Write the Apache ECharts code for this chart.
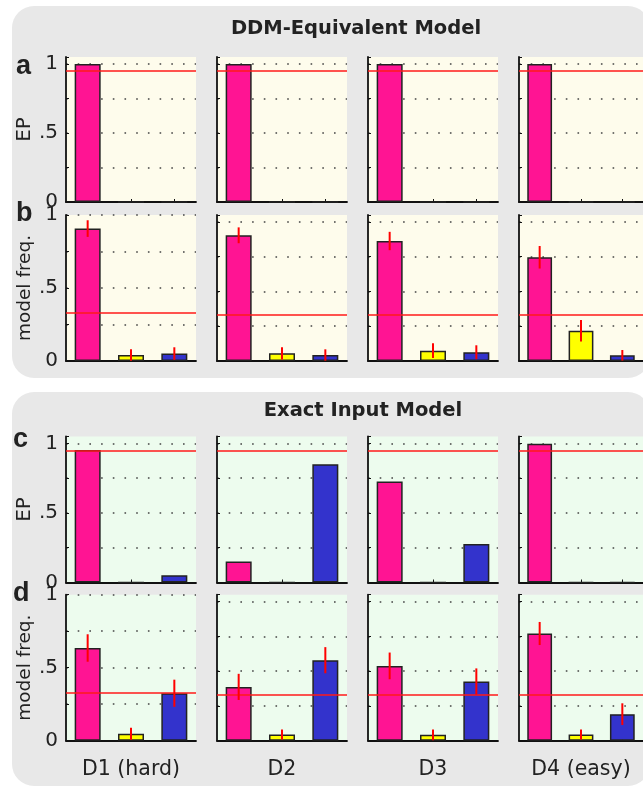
<!DOCTYPE html>
<html>
<head>
<meta charset="utf-8">
<script src="https://cdn.jsdelivr.net/npm/echarts@6/dist/echarts.min.js"></script>
<style>
html,body{margin:0;padding:0;background:#fff;}
#c{width:643px;height:786px;}
</style>
</head>
<body>
<div id="c"></div>
<script>
// ---- data ----
const difficulties = ['D1 (hard)', 'D2', 'D3', 'D4 (easy)'];
const models = ['M1', 'M2', 'M3'];
const panelTitles = ['DDM-Equivalent Model', 'Exact Input Model'];
const panelLetters = ['a', 'b', 'c', 'd'];
const rowNames = ['EP', 'model freq.', 'EP', 'model freq.'];

// a: exceedance probability, DDM-equivalent model
const epDDM = [[1.0, 0, 0], [1.0, 0, 0], [1.0, 0, 0], [1.0, 0, 0]];
// b: model frequency, DDM-equivalent model
const freqDDM = [[0.907, 0.041, 0.051], [0.904, 0.055, 0.043], [0.863, 0.074, 0.063], [0.746, 0.218, 0.041]];
const freqDDMErr = [[0.057, 0.039, 0.043], [0.057, 0.044, 0.041], [0.066, 0.053, 0.050], [0.081, 0.077, 0.038]];
// c: exceedance probability, exact input model
const epExact = [[0.953, 0, 0.052], [0.151, 0, 0.851], [0.727, 0, 0.276], [0.997, 0, 0]];
// d: model frequency, exact input model
const freqExact = [[0.635, 0.048, 0.325], [0.387, 0.045, 0.579], [0.538, 0.042, 0.426], [0.771, 0.045, 0.191]];
const freqExactErr = [[0.094, 0.041, 0.093], [0.094, 0.036, 0.094], [0.096, 0.039, 0.094], [0.083, 0.036, 0.078]];

const epThreshold = 0.95;
const chanceLevel = 0.3333;

// ---- layout / style ----
const FONT = 'DejaVu Sans';
const barColors = ['#FF1493', '#FFFF00', '#3333CC'];
const cream = '#FEFCEC', mint = '#EDFCEE';
const colLeft = [66, 217, 368, 519];
const colWidth = 130;
const rows = [
  {vals: epDDM, err: null, line: epThreshold, bg: cream, top: 57, h: 145, nameSize: 20},
  {vals: freqDDM, err: freqDDMErr, line: chanceLevel, bg: cream, top: 215, h: 146, nameSize: 18.5},
  {vals: epExact, err: null, line: epThreshold, bg: mint, top: 436.5, h: 146, nameSize: 20},
  {vals: freqExact, err: freqExactErr, line: chanceLevel, bg: mint, top: 594.7, h: 146, nameSize: 18.5}
];

const grid = [], xAxis = [], yAxis = [], series = [];
let idx = 0;
rows.forEach((row, r) => {
  difficulties.forEach((dname, c) => {
    const ymax = (c === 0 && row.err) ? 1.0 : 1.05;
    grid.push({left: colLeft[c], top: row.top, width: colWidth, height: row.h,
      show: true, backgroundColor: row.bg, borderWidth: 0, containLabel: false});
    xAxis.push({
      type: 'category', gridIndex: idx, data: models, boundaryGap: true,
      axisLine: {show: true, lineStyle: {color: '#111', width: 1.8}},
      axisTick: {show: true, inside: true, length: 3, alignWithLabel: true, lineStyle: {color: '#111'}},
      axisLabel: {show: false},
      splitLine: {show: false},
      name: r === 3 ? dname : '', nameLocation: 'middle', nameGap: 18,
      nameTextStyle: {fontFamily: FONT, fontSize: 20.5, color: '#222'}
    });
    yAxis.push({
      type: 'value', gridIndex: idx, min: 0, max: ymax, interval: 0.25,
      axisLine: {show: true, lineStyle: {color: '#111', width: 1.8}},
      axisTick: {show: true, inside: true, length: 3, lineStyle: {color: '#111'}},
      axisLabel: {show: c === 0, margin: 8, fontFamily: FONT, fontSize: 20, color: '#222',
        showMaxLabel: true,
        formatter: v => (Math.abs(v) < 1e-9 ? '0' : Math.abs(v - 0.5) < 1e-9 ? '.5' : Math.abs(v - 1) < 1e-9 ? '1' : '')},
      splitLine: {show: true, showMinLine: false, showMaxLine: ymax === 1.0,
        lineStyle: {color: '#444', width: 1.6, type: [1.6, 10.1]}},
      name: c === 0 ? rowNames[r] : '', nameLocation: 'middle', nameRotate: 90, nameGap: 30,
      nameTextStyle: {fontFamily: FONT, fontSize: row.nameSize, color: '#222'}
    });
    series.push({
      type: 'bar', xAxisIndex: idx, yAxisIndex: idx, barWidth: '60%', z: 3,
      data: row.vals[c].map((v, k) => ({value: v, itemStyle: {color: barColors[k]}})),
      itemStyle: {borderColor: '#222', borderWidth: 1.5},
      silent: true,
      markLine: {silent: true, symbol: 'none', label: {show: false},
        lineStyle: {color: '#FF1A1A', width: 1.6, type: 'solid'},
        data: [{yAxis: row.line}]}
    });
    if (row.err) {
      series.push({
        type: 'custom', xAxisIndex: idx, yAxisIndex: idx, z: 5, silent: true,
        data: row.vals[c].map((v, k) => [k, v, row.err[c][k]]),
        renderItem: (params, api) => {
          const k = api.value(0), v = api.value(1), e = api.value(2);
          const p1 = api.coord([k, v + e]);
          const p2 = api.coord([k, Math.max(0, v - e)]);
          return {type: 'line', shape: {x1: p1[0], y1: p1[1], x2: p2[0], y2: p2[1]},
            style: {stroke: '#FF0000', lineWidth: 2}};
        }
      });
    }
    idx++;
  });
});

function txt(x, y, text, font, align) {
  return {type: 'text', z: 10, x: x, y: y,
    style: {text: text, font: font, fill: '#222', align: align || 'left', verticalAlign: 'middle'}};
}
const letterFont = 'bold 27px "Liberation Sans"';
const titleFont = 'bold 19.5px "DejaVu Sans"';
const graphic = [
  {type: 'rect', z: -10, shape: {x: 12, y: 6, width: 638, height: 372, r: 22}, style: {fill: '#E8E8E8'}},
  {type: 'rect', z: -10, shape: {x: 12, y: 392, width: 638, height: 394, r: 22}, style: {fill: '#E8E8E8'}},
  txt(356, 29, panelTitles[0], titleFont, 'center'),
  txt(363, 411, panelTitles[1], titleFont, 'center'),
  txt(16, 66.5, panelLetters[0], letterFont),
  txt(16, 213.5, panelLetters[1], letterFont),
  txt(13, 439.5, panelLetters[2], letterFont),
  txt(13, 593.5, panelLetters[3], letterFont)
];

const chart = echarts.init(document.getElementById('c'), null, {renderer: 'canvas'});
chart.setOption({
  backgroundColor: '#ffffff',
  animation: false,
  textStyle: {fontFamily: FONT},
  graphic: graphic,
  grid: grid, xAxis: xAxis, yAxis: yAxis, series: series
});
</script>
</body>
</html>
